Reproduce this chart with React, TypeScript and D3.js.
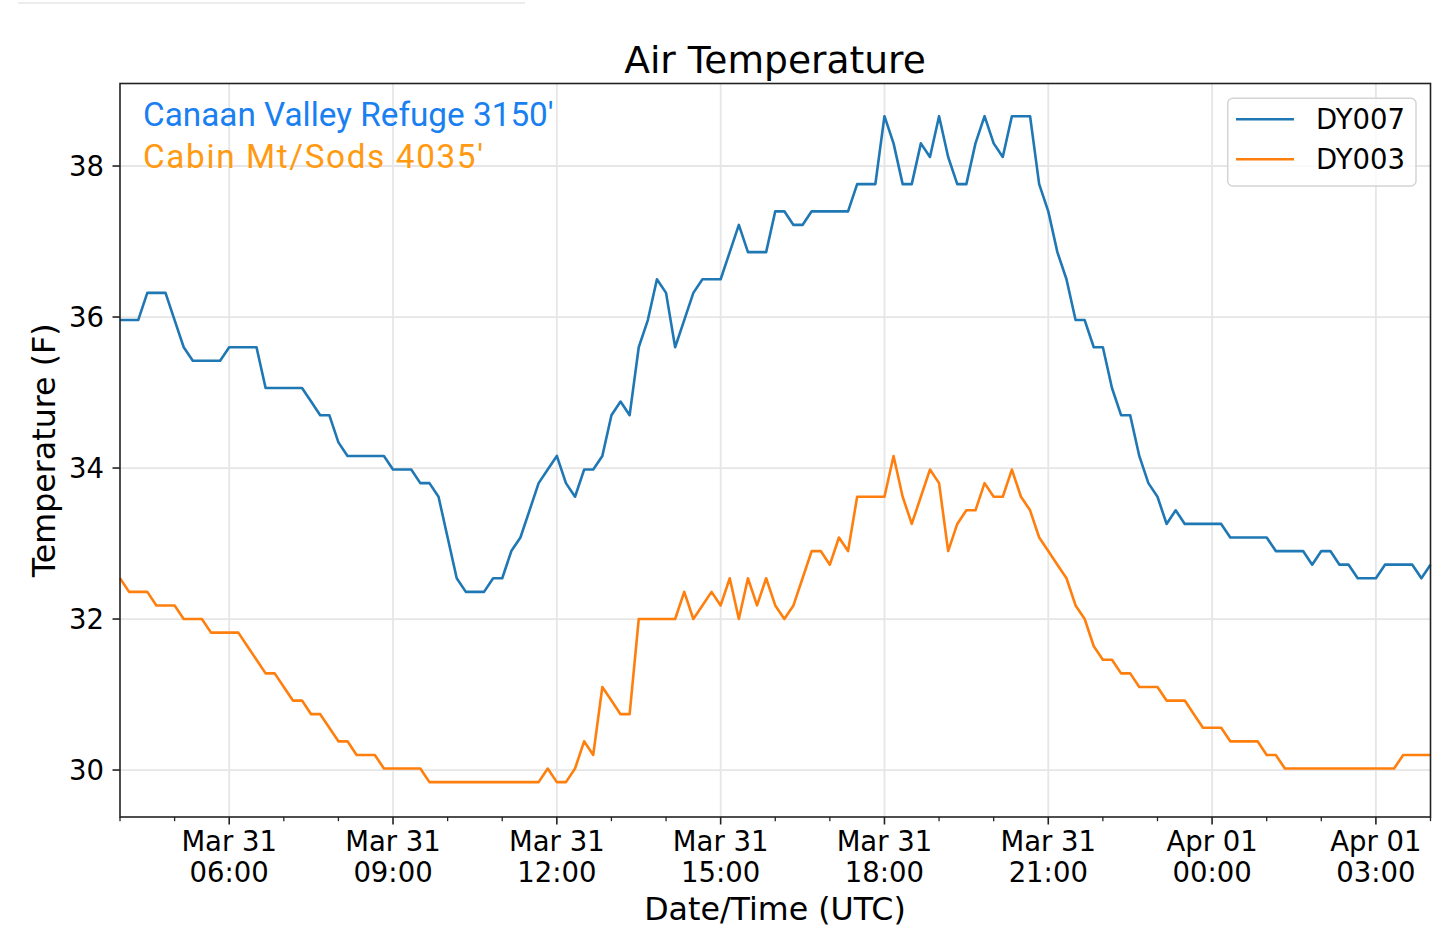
import * as d3 from "d3";

// 10-minute readings starting Mar 31 04:00 UTC
const startTime = "2019-03-31T04:00:00Z";
const stepMinutes = 10;

// DY007 - Canaan Valley Refuge 3150'
const dy007 = [
    35.96, 35.96, 35.96, 36.32, 36.32, 36.32, 35.96, 35.6, 35.42, 35.42,
    35.42, 35.42, 35.6, 35.6, 35.6, 35.6, 35.06, 35.06, 35.06, 35.06,
    35.06, 34.88, 34.7, 34.7, 34.34, 34.16, 34.16, 34.16, 34.16, 34.16,
    33.98, 33.98, 33.98, 33.8, 33.8, 33.62, 33.08, 32.54, 32.36, 32.36,
    32.36, 32.54, 32.54, 32.9, 33.08, 33.44, 33.8, 33.98, 34.16, 33.8,
    33.62, 33.98, 33.98, 34.16, 34.7, 34.88, 34.7, 35.6, 35.96, 36.5,
    36.32, 35.6, 35.96, 36.32, 36.5, 36.5, 36.5, 36.86, 37.22, 36.86,
    36.86, 36.86, 37.4, 37.4, 37.22, 37.22, 37.4, 37.4, 37.4, 37.4,
    37.4, 37.76, 37.76, 37.76, 38.66, 38.3, 37.76, 37.76, 38.3, 38.12,
    38.66, 38.12, 37.76, 37.76, 38.3, 38.66, 38.3, 38.12, 38.66, 38.66,
    38.66, 37.76, 37.4, 36.86, 36.5, 35.96, 35.96, 35.6, 35.6, 35.06,
    34.7, 34.7, 34.16, 33.8, 33.62, 33.26, 33.44, 33.26, 33.26, 33.26,
    33.26, 33.26, 33.08, 33.08, 33.08, 33.08, 33.08, 32.9, 32.9, 32.9,
    32.9, 32.72, 32.9, 32.9, 32.72, 32.72, 32.54, 32.54, 32.54, 32.72,
    32.72, 32.72, 32.72, 32.54, 32.72,
];

// DY003 - Cabin Mt/Sods 4035'
const dy003 = [
    32.54, 32.36, 32.36, 32.36, 32.18, 32.18, 32.18, 32.0, 32.0, 32.0,
    31.82, 31.82, 31.82, 31.82, 31.64, 31.46, 31.28, 31.28, 31.1, 30.92,
    30.92, 30.74, 30.74, 30.56, 30.38, 30.38, 30.2, 30.2, 30.2, 30.02,
    30.02, 30.02, 30.02, 30.02, 29.84, 29.84, 29.84, 29.84, 29.84, 29.84,
    29.84, 29.84, 29.84, 29.84, 29.84, 29.84, 29.84, 30.02, 29.84, 29.84,
    30.02, 30.38, 30.2, 31.1, 30.92, 30.74, 30.74, 32.0, 32.0, 32.0,
    32.0, 32.0, 32.36, 32.0, 32.18, 32.36, 32.18, 32.54, 32.0, 32.54,
    32.18, 32.54, 32.18, 32.0, 32.18, 32.54, 32.9, 32.9, 32.72, 33.08,
    32.9, 33.62, 33.62, 33.62, 33.62, 34.16, 33.62, 33.26, 33.62, 33.98,
    33.8, 32.9, 33.26, 33.44, 33.44, 33.8, 33.62, 33.62, 33.98, 33.62,
    33.44, 33.08, 32.9, 32.72, 32.54, 32.18, 32.0, 31.64, 31.46, 31.46,
    31.28, 31.28, 31.1, 31.1, 31.1, 30.92, 30.92, 30.92, 30.74, 30.56,
    30.56, 30.56, 30.38, 30.38, 30.38, 30.38, 30.2, 30.2, 30.02, 30.02,
    30.02, 30.02, 30.02, 30.02, 30.02, 30.02, 30.02, 30.02, 30.02, 30.02,
    30.02, 30.2, 30.2, 30.2, 30.2,
];

const seriesNames = ["DY007", "DY003"];
const seriesColors = ["#1f77b4", "#ff7f0e"];
const siteLabels = ["Canaan Valley Refuge 3150'", "Cabin Mt/Sods 4035'"];
const siteColors = ["#1a7ff0", "#ff9a12"];
const yTicks = [30, 32, 34, 36, 38];

const W = 1440;
const H = 943;
const plot = { left: 120, right: 1430.5, top: 83.5, bottom: 817 };
const axisFont = "'DejaVu Sans', Verdana, sans-serif";
const tickSize = 27.5;
const labelSize = 31.7;

export default function App() {
    const t0 = new Date(startTime);
    const times = dy007.map((_, i) => d3.utcMinute.offset(t0, i * stepMinutes));

    const x = d3
        .scaleUtc()
        .domain([t0, times[times.length - 1]])
        .range([plot.left, plot.right]);
    const y = d3.scaleLinear().domain([29.378, 39.093]).range([plot.bottom, plot.top]);

    const line = d3
        .line<number>()
        .x((_, i) => x(times[i]))
        .y((d) => y(d));

    const majorTicks = x.ticks(d3.utcHour.every(3)!);
    const minorTicks = x.ticks(d3.utcHour.every(1)!).filter((t) => t.getUTCHours() % 3 !== 0);
    const fmtDay = d3.utcFormat("%b %d");
    const fmtHour = d3.utcFormat("%H:%M");

    const legend = { x: 1227.7, y: 98.3, w: 188.3, h: 87.7 };

    return (
        <div style={{ position: "absolute", left: 0, top: 0 }}>
            <svg width={W} height={H} style={{ display: "block", background: "#fff" }}>
                {/* faint rule at top of page */}
                <line x1={18} x2={525} y1={3} y2={3} stroke="#ececec" strokeWidth={2} />

                {/* title */}
                <text x={775} y={73} textAnchor="middle" fontFamily={axisFont} fontSize={37.6} fill="#000">
                    Air Temperature
                </text>

                {/* grid */}
                <g stroke="#e6e6e6" strokeWidth={1.8}>
                    {majorTicks.map((t) => (
                        <line key={"gx" + t.getTime()} x1={x(t)} x2={x(t)} y1={plot.top} y2={plot.bottom} />
                    ))}
                    {yTicks.map((v) => (
                        <line key={"gy" + v} x1={plot.left} x2={plot.right} y1={y(v)} y2={y(v)} />
                    ))}
                </g>

                {/* series */}
                {[dy007, dy003].map((s, k) => (
                    <path
                        key={seriesNames[k]}
                        d={line(s) ?? ""}
                        fill="none"
                        stroke={seriesColors[k]}
                        strokeWidth={2.6}
                        strokeLinejoin="round"
                    />
                ))}

                {/* frame */}
                <rect
                    x={plot.left}
                    y={plot.top}
                    width={plot.right - plot.left}
                    height={plot.bottom - plot.top}
                    fill="none"
                    stroke="#222"
                    strokeWidth={1.6}
                />

                {/* y axis */}
                <g fontFamily={axisFont} fontSize={tickSize} fill="#000">
                    {yTicks.map((v) => (
                        <g key={"yt" + v}>
                            <line x1={plot.left - 7.5} x2={plot.left} y1={y(v)} y2={y(v)} stroke="#222" strokeWidth={1.6} />
                            <text x={plot.left - 16} y={y(v)} dy="0.36em" textAnchor="end">
                                {v}
                            </text>
                        </g>
                    ))}
                </g>

                {/* x axis */}
                <g fontFamily={axisFont} fontSize={tickSize} fill="#000">
                    {minorTicks.map((t) => (
                        <line
                            key={"mt" + t.getTime()}
                            x1={x(t)}
                            x2={x(t)}
                            y1={plot.bottom}
                            y2={plot.bottom + 4.2}
                            stroke="#222"
                            strokeWidth={1.3}
                        />
                    ))}
                    {majorTicks.map((t) => (
                        <g key={"xt" + t.getTime()}>
                            <line x1={x(t)} x2={x(t)} y1={plot.bottom} y2={plot.bottom + 7.5} stroke="#222" strokeWidth={1.6} />
                            <text x={x(t)} y={850.5} textAnchor="middle">
                                {fmtDay(t)}
                            </text>
                            <text x={x(t)} y={882} textAnchor="middle">
                                {fmtHour(t)}
                            </text>
                        </g>
                    ))}
                </g>

                {/* axis labels */}
                <text x={775} y={919.5} textAnchor="middle" fontFamily={axisFont} fontSize={labelSize} fill="#000">
                    Date/Time (UTC)
                </text>
                <text
                    transform={`translate(55,${(plot.top + plot.bottom) / 2}) rotate(-90)`}
                    textAnchor="middle"
                    fontFamily={axisFont}
                    fontSize={labelSize}
                    fill="#000"
                >
                    Temperature (F)
                </text>

                {/* site annotations */}
                <g fontFamily="Roboto, 'Noto Sans', sans-serif" fontSize={33.3}>
                    <text x={143} y={126} fill={siteColors[0]}>
                        {siteLabels[0]}
                    </text>
                    <text x={143} y={167.5} fill={siteColors[1]} textLength={340} lengthAdjust="spacing">
                        {siteLabels[1]}
                    </text>
                </g>

                {/* legend */}
                <rect
                    x={legend.x}
                    y={legend.y}
                    width={legend.w}
                    height={legend.h}
                    rx={5}
                    fill="#fff"
                    fillOpacity={0.8}
                    stroke="#d4d4d4"
                    strokeWidth={1.5}
                />
                {seriesNames.map((n, k) => (
                    <g key={n}>
                        <line
                            x1={1236}
                            x2={1294}
                            y1={119.3 + k * 40}
                            y2={119.3 + k * 40}
                            stroke={seriesColors[k]}
                            strokeWidth={2.6}
                        />
                        <text x={1316} y={129.3 + k * 40} fontFamily={axisFont} fontSize={tickSize} fill="#000">
                            {n}
                        </text>
                    </g>
                ))}
            </svg>
        </div>
    );
}
